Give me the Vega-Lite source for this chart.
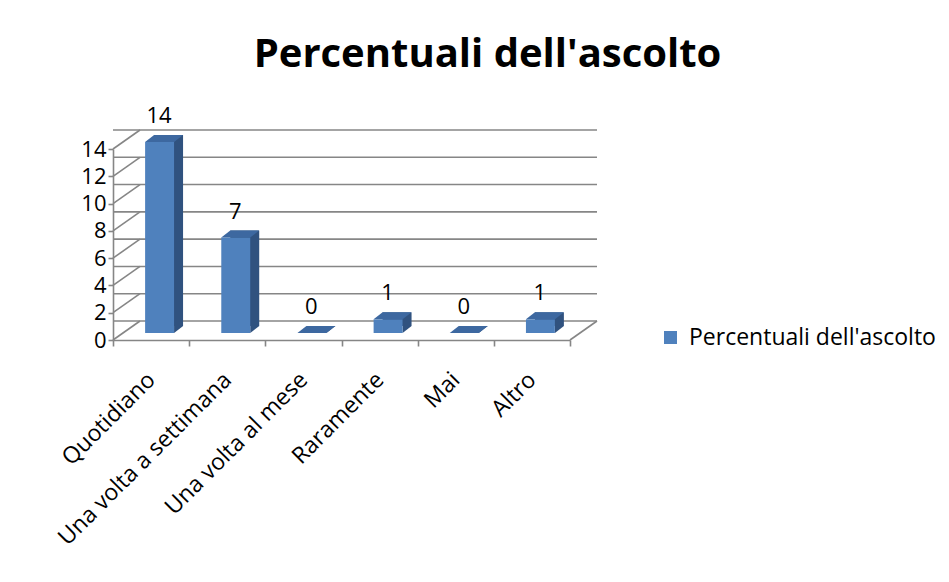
{
  "$schema": "https://vega.github.io/schema/vega-lite/v6.json",
  "autosize": {"type": "none"},
  "width": 457,
  "height": 191,
  "padding": {"left": 113, "top": 149, "right": 379, "bottom": 242},
  "background": "white",
  "title": {
    "text": "Percentuali dell'ascolto",
    "font": "Open Sans",
    "fontSize": 40,
    "fontWeight": "bold",
    "color": "#000000",
    "anchor": "middle",
    "dx": 146,
    "offset": 30
  },
  "datasets": {
    "ascolto": [
      {"frequenza": "Quotidiano", "valore": 14, "serie": "Percentuali dell'ascolto"},
      {"frequenza": "Una volta a settimana", "valore": 7, "serie": "Percentuali dell'ascolto"},
      {"frequenza": "Una volta al mese", "valore": 0, "serie": "Percentuali dell'ascolto"},
      {"frequenza": "Raramente", "valore": 1, "serie": "Percentuali dell'ascolto"},
      {"frequenza": "Mai", "valore": 0, "serie": "Percentuali dell'ascolto"},
      {"frequenza": "Altro", "valore": 1, "serie": "Percentuali dell'ascolto"}
    ],
    "livelli": [
      {"livello": 0}, {"livello": 2}, {"livello": 4}, {"livello": 6},
      {"livello": 8}, {"livello": 10}, {"livello": 12}, {"livello": 14}
    ]
  },
  "data": {"name": "ascolto"},
  "layer": [
    {
      "description": "back wall gridlines, pushed into depth",
      "data": {"name": "livelli"},
      "mark": {"type": "rule", "color": "#868686", "strokeWidth": 1.6, "xOffset": 27, "x2Offset": 27, "yOffset": -19},
      "encoding": {
        "y": {"field": "livello", "type": "quantitative", "title": null}
      }
    },
    {
      "description": "side wall diagonals from the value axis to the back wall",
      "data": {"name": "livelli"},
      "mark": {"type": "rule", "color": "#868686", "strokeWidth": 1.6, "x2Offset": 27, "y2Offset": -19},
      "encoding": {
        "x": {"datum": "Quotidiano", "type": "nominal", "bandPosition": 0, "title": null},
        "x2": {"datum": "Quotidiano", "bandPosition": 0},
        "y": {"field": "livello", "type": "quantitative", "title": null},
        "y2": {"field": "livello"}
      }
    },
    {
      "description": "right edge of the floor",
      "data": {"values": [{}]},
      "mark": {"type": "rule", "color": "#868686", "strokeWidth": 1.6, "x2Offset": 27, "y2Offset": -19},
      "encoding": {
        "x": {"datum": "Altro", "type": "nominal", "bandPosition": 1, "title": null},
        "x2": {"datum": "Altro", "bandPosition": 1},
        "y": {"datum": 0, "type": "quantitative", "title": null},
        "y2": {"datum": 0}
      }
    },
    {
      "description": "shaded back block giving the column side",
      "mark": {"type": "bar", "color": "#30527f", "width": {"band": 0.38}, "xOffset": 17.5, "yOffset": -14, "y2Offset": -14},
      "encoding": {
        "x": {"field": "frequenza", "type": "nominal", "title": null},
        "y": {"field": "valore", "type": "quantitative", "title": null},
        "y2": {"datum": 0}
      }
    },
    {
      "description": "lower corner of the column side",
      "mark": {"type": "point", "shape": "M23,-7L32,-14L23,-14Z", "size": 4, "filled": true, "opacity": 1, "color": "#30527f", "strokeWidth": 0},
      "encoding": {
        "x": {"field": "frequenza", "type": "nominal", "title": null},
        "y": {"datum": 0, "type": "quantitative", "title": null}
      }
    },
    {
      "description": "front face of each column",
      "mark": {"type": "bar", "width": {"band": 0.38}, "xOffset": 8.5, "yOffset": -7, "y2Offset": -7},
      "encoding": {
        "x": {
          "field": "frequenza",
          "type": "nominal",
          "title": null,
          "sort": null,
          "scale": {"domain": ["Quotidiano", "Una volta a settimana", "Una volta al mese", "Raramente", "Mai", "Altro"], "paddingInner": 0, "paddingOuter": 0}
        },
        "y": {
          "field": "valore",
          "type": "quantitative",
          "title": null,
          "scale": {"domain": [0, 14], "nice": false, "zero": true}
        },
        "y2": {"datum": 0},
        "color": {
          "field": "serie",
          "type": "nominal",
          "scale": {"range": ["#4f81bd"]},
          "legend": {
            "title": null,
            "orient": "none",
            "legendX": 546,
            "legendY": 177,
            "symbolType": "square",
            "symbolSize": 169,
            "symbolStrokeWidth": 0,
            "labelFont": "Open Sans",
            "labelFontSize": 23,
            "labelColor": "#000000",
            "labelOffset": 7,
            "labelLimit": 0,
            "padding": 0
          }
        }
      }
    },
    {
      "description": "top face of each column",
      "mark": {"type": "point", "shape": "M-6,-7L23,-7L32,-14L3,-14Z", "size": 4, "filled": true, "opacity": 1, "color": "#3d68a0", "strokeWidth": 0},
      "encoding": {
        "x": {"field": "frequenza", "type": "nominal", "title": null},
        "y": {"field": "valore", "type": "quantitative", "title": null}
      }
    },
    {
      "description": "value labels",
      "mark": {"type": "text", "font": "Open Sans", "fontSize": 22, "color": "#000000", "dx": 8, "dy": -33, "baseline": "middle", "align": "center"},
      "encoding": {
        "x": {"field": "frequenza", "type": "nominal", "title": null},
        "y": {"field": "valore", "type": "quantitative", "title": null},
        "text": {"field": "valore", "type": "quantitative"}
      }
    }
  ],
  "config": {
    "view": {"stroke": null},
    "font": "Open Sans",
    "axisX": {
      "title": null,
      "tickBand": "extent",
      "labelAngle": -45,
      "labelAlign": "right",
      "labelBaseline": "middle",
      "labelFont": "Open Sans",
      "labelFontSize": 23,
      "labelColor": "#000000",
      "labelPadding": 30,
      "labelLimit": 0,
      "tickSize": 6,
      "tickColor": "#868686",
      "tickWidth": 1.6,
      "domainColor": "#868686",
      "domainWidth": 1.6,
      "grid": false
    },
    "axisY": {
      "title": null,
      "values": [0, 2, 4, 6, 8, 10, 12, 14],
      "grid": false,
      "labelFont": "Open Sans",
      "labelFontSize": 22,
      "labelColor": "#000000",
      "labelPadding": 2,
      "tickSize": 5,
      "tickColor": "#868686",
      "tickWidth": 1.6,
      "domainColor": "#868686",
      "domainWidth": 1.6
    }
  }
}
